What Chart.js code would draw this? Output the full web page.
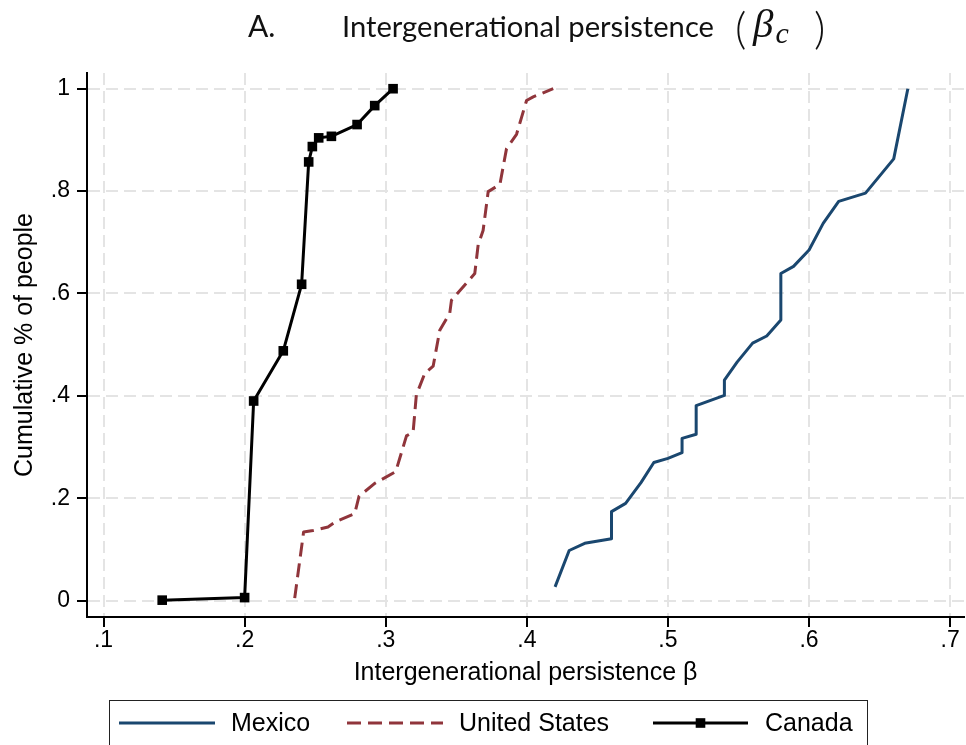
<!DOCTYPE html>
<html>
<head>
<meta charset="utf-8">
<script src="https://cdn.jsdelivr.net/npm/chart.js@4.4.1/dist/chart.umd.min.js"></script>
<style>
  html, body { margin: 0; padding: 0; background: #ffffff; }
  #wrap { width: 966px; height: 745px; position: relative; }
</style>
</head>
<body>
<div id="wrap"><canvas id="chart" width="966" height="745"></canvas></div>
<script>
// Cumulative share of people by intergenerational persistence, three countries
const seriesNames = ['Mexico', 'United States', 'Canada'];

const mexicoBeta = [0.420, 0.430, 0.441, 0.460, 0.460, 0.470, 0.481, 0.490, 0.500, 0.510, 0.510,
                    0.520, 0.520, 0.540, 0.540, 0.549, 0.560, 0.570, 0.580, 0.580, 0.589, 0.600,
                    0.610, 0.621, 0.640, 0.660, 0.670];
const mexicoCum  = [0.027, 0.098, 0.112, 0.121, 0.174, 0.190, 0.231, 0.270, 0.278, 0.289, 0.317,
                    0.325, 0.381, 0.401, 0.431, 0.466, 0.503, 0.517, 0.548, 0.639, 0.653, 0.685,
                    0.737, 0.780, 0.796, 0.863, 1.000];

const usBeta = [0.2355, 0.2418, 0.2485, 0.2591, 0.2650, 0.2780, 0.2811, 0.2922, 0.3071, 0.3147,
                0.3194, 0.3217, 0.3277, 0.3336, 0.3383, 0.3454, 0.3466, 0.3631, 0.3655, 0.3690,
                0.3726, 0.3809, 0.3856, 0.3927, 0.3998, 0.4045, 0.4187];
const usCum  = [0.005, 0.134, 0.137, 0.144, 0.155, 0.170, 0.204, 0.229, 0.252, 0.322,
                0.329, 0.402, 0.444, 0.458, 0.528, 0.562, 0.587, 0.639, 0.695, 0.723,
                0.799, 0.813, 0.883, 0.911, 0.977, 0.984, 1.000];

const canadaBeta = [0.1416, 0.2000, 0.2064, 0.2274, 0.2404, 0.2454, 0.2480, 0.2525, 0.2615, 0.2797, 0.2922, 0.3052];
const canadaCum  = [0.001, 0.006, 0.390, 0.488, 0.618, 0.857, 0.887, 0.904, 0.907, 0.930, 0.967, 1.000];

const xTickValues = [0.1, 0.2, 0.3, 0.4, 0.5, 0.6, 0.7];
const xTickLabels = ['.1', '.2', '.3', '.4', '.5', '.6', '.7'];
const yTickValues = [0, 0.2, 0.4, 0.6, 0.8, 1];
const yTickLabels = ['0', '.2', '.4', '.6', '.8', '1'];

const toPoints = (xs, ys) => xs.map((x, i) => ({ x: x, y: ys[i] }));

const axisFont = '"Liberation Sans", Arial, sans-serif';
const titleFont = 'Lato, "Open Sans", sans-serif';
const mathFont = '"Liberation Serif", "DejaVu Serif", serif';

// Header drawn above the plot: panel letter, caption and the β_c symbol
const headerPlugin = {
  id: 'header',
  afterDraw(chart) {
    const ctx = chart.ctx;
    ctx.save();
    ctx.fillStyle = '#111111';
    ctx.textBaseline = 'alphabetic';
    ctx.textAlign = 'left';
    const base = 37;
    ctx.font = '400 30px ' + titleFont;
    ctx.fillText('A.', 248, base);
    const caption = 'Intergenerational persistence';
    // fit caption to its slot
    const w = ctx.measureText(caption).width;
    const size = 30 * 372 / w;
    ctx.font = '400 ' + size.toFixed(2) + 'px ' + titleFont;
    ctx.fillText(caption, 342, base);
    ctx.font = '300 44px ' + titleFont;
    ctx.fillText('(', 735, base + 7);
    ctx.font = 'italic 41px ' + mathFont;
    ctx.fillText('β', 753, base);
    const bx = 753 + ctx.measureText('β').width;
    ctx.font = 'italic 30px ' + mathFont;
    ctx.fillText('c', bx + 2, base + 6);
    const cx = bx + 2 + ctx.measureText('c').width;
    ctx.font = '300 44px ' + titleFont;
    ctx.fillText(')', Math.max(cx + 14, 814), base + 7);
    ctx.restore();
  }
};

// Boxed legend under the x-axis title, styled from the datasets
const legendPlugin = {
  id: 'boxLegend',
  afterDraw(chart) {
    const ctx = chart.ctx;
    const slots = [
      { x0: 119, x1: 215, tx: 231 },
      { x0: 347, x1: 443, tx: 459 },
      { x0: 653, x1: 748, tx: 765 }
    ];
    const lineY = 723;
    ctx.save();
    ctx.strokeStyle = '#222222';
    ctx.lineWidth = 1;
    ctx.strokeRect(109.5, 700.5, 758, 70);
    chart.data.datasets.forEach((ds, i) => {
      const s = slots[i];
      ctx.save();
      ctx.strokeStyle = ds.borderColor;
      ctx.lineWidth = ds.borderWidth;
      ctx.setLineDash(ds.borderDash || []);
      ctx.beginPath();
      ctx.moveTo(s.x0, lineY);
      ctx.lineTo(s.x1, lineY);
      ctx.stroke();
      ctx.restore();
      if (ds.pointRadius > 0) {
        const side = ds.pointRadius * Math.SQRT2;
        ctx.fillStyle = ds.pointBackgroundColor;
        ctx.fillRect((s.x0 + s.x1) / 2 - side / 2, lineY - side / 2, side, side);
      }
      ctx.fillStyle = '#000000';
      ctx.font = '25px ' + axisFont;
      ctx.textBaseline = 'middle';
      ctx.textAlign = 'left';
      ctx.fillText(ds.label, s.tx, lineY + 1);
    });
    ctx.restore();
  }
};

const gridStyle = {
  color: '#e4e4e4',
  lineWidth: 2,
  tickColor: '#000000',
  tickWidth: 2,
  tickLength: 10
};
const borderStyle = { display: true, color: '#000000', width: 2, dash: [12, 6] };

new Chart(document.getElementById('chart'), {
  type: 'scatter',
  data: {
    datasets: [
      {
        label: seriesNames[0],
        data: toPoints(mexicoBeta, mexicoCum),
        showLine: true,
        borderColor: '#1a476f',
        backgroundColor: '#1a476f',
        borderWidth: 3,
        borderJoinStyle: 'round',
        pointRadius: 0,
        tension: 0
      },
      {
        label: seriesNames[1],
        data: toPoints(usBeta, usCum),
        showLine: true,
        borderColor: '#90353b',
        backgroundColor: '#90353b',
        borderWidth: 3,
        borderDash: [14, 7],
        borderJoinStyle: 'round',
        pointRadius: 0,
        tension: 0
      },
      {
        label: seriesNames[2],
        data: toPoints(canadaBeta, canadaCum),
        showLine: true,
        borderColor: '#000000',
        backgroundColor: '#000000',
        borderWidth: 3,
        borderJoinStyle: 'round',
        pointStyle: 'rect',
        pointRadius: 6.8,
        pointBorderWidth: 0,
        pointBackgroundColor: '#000000',
        pointBorderColor: '#000000',
        tension: 0
      }
    ]
  },
  options: {
    responsive: false,
    animation: false,
    devicePixelRatio: 1,
    layout: { autoPadding: false, padding: { top: 73, right: 2, bottom: 45, left: 0 } },
    plugins: {
      legend: { display: false },
      tooltip: { enabled: false },
      title: { display: false }
    },
    scales: {
      x: {
        type: 'linear',
        min: 0.0883,
        max: 0.7098,
        afterBuildTicks: s => { s.ticks = xTickValues.map(v => ({ value: v })); },
        afterFit: s => { s.height = 83; s.paddingLeft = 0; s.paddingRight = 0; },
        ticks: {
          callback: (v, i) => xTickLabels[i],
          font: { family: axisFont, size: 23 },
          color: '#000000',
          padding: 0,
          maxRotation: 0,
          autoSkip: false
        },
        grid: gridStyle,
        border: borderStyle,
        title: {
          display: true,
          text: 'Intergenerational persistence β',
          font: { family: axisFont, size: 25 },
          color: '#000000',
          padding: { top: 0, bottom: 12 }
        }
      },
      y: {
        type: 'linear',
        min: -0.0319,
        max: 1.0307,
        afterBuildTicks: s => { s.ticks = yTickValues.map(v => ({ value: v })); },
        afterFit: s => { s.width = 87; s.paddingTop = 0; s.paddingBottom = 0; },
        ticks: {
          callback: (v, i) => yTickLabels[i],
          font: { family: axisFont, size: 23 },
          color: '#000000',
          padding: 7,
          autoSkip: false
        },
        grid: gridStyle,
        border: borderStyle,
        title: {
          display: true,
          text: 'Cumulative % of people',
          font: { family: axisFont, size: 25 },
          color: '#000000',
          padding: { top: 10, bottom: 0 }
        }
      }
    }
  },
  plugins: [headerPlugin, legendPlugin]
});
</script>
</body>
</html>
